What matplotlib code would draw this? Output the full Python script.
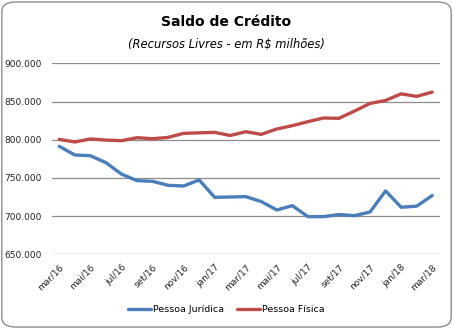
import matplotlib
matplotlib.use("Agg")
import matplotlib.pyplot as plt
from matplotlib.patches import FancyBboxPatch
from matplotlib.ticker import FuncFormatter

months = ["mar/16", "abr/16", "mai/16", "jun/16", "jul/16", "ago/16", "set/16", "out/16",
          "nov/16", "dez/16", "jan/17", "fev/17", "mar/17", "abr/17", "mai/17", "jun/17",
          "jul/17", "ago/17", "set/17", "out/17", "nov/17", "dez/17", "jan/18", "fev/18", "mar/18"]
pessoa_juridica = [791.3, 780.0, 779.0, 770.0, 755.0, 746.4, 745.5, 740.3, 739.4, 747.3,
                   724.6, 725.0, 725.5, 719.0, 708.0, 713.7, 699.3, 699.3, 702.0, 700.6,
                   705.4, 733.0, 711.6, 713.0, 727.0]
pessoa_fisica = [800.4, 797.0, 801.0, 799.5, 798.7, 802.6, 801.3, 803.0, 808.3, 809.0,
                 809.6, 805.5, 810.4, 807.0, 814.0, 818.4, 823.6, 828.4, 828.0, 837.5,
                 847.5, 851.4, 860.0, 856.7, 862.3]
yticks = [650, 700, 750, 800, 850, 900]

fig = plt.figure(figsize=(4.53, 3.29), dpi=100)
fig.patch.set_facecolor("white")
border = FancyBboxPatch((0.004, 0.006), 0.992, 0.988, boxstyle="round,pad=0,rounding_size=0.03",
                        transform=fig.transFigure, facecolor="none", edgecolor="#8c8c8c",
                        linewidth=1.0, zorder=5)
fig.patches.append(border)

ax = fig.add_axes([51.5 / 453, 1 - 254.3 / 329, (440 - 51.5) / 453, (254.3 - 63.3) / 329])
ax.set_facecolor("none")
x = list(range(len(months)))
ax.plot(x, pessoa_juridica, color="#4a7ebb", lw=2.4, label="Pessoa Jurídica", solid_capstyle="round")
ax.plot(x, pessoa_fisica, color="#be4b48", lw=2.4, label="Pessoa Física", solid_capstyle="round")

ax.set_xlim(-0.5, 24.5)
ax.set_ylim(650, 900)
ax.set_yticks(yticks)
ax.yaxis.set_major_formatter(FuncFormatter(lambda v, p: f"{int(v)}.000"))
ax.grid(axis="y", color="#8c8c8c", lw=0.9)
ax.set_axisbelow(True)
for s in ax.spines.values():
    s.set_visible(False)
ax.tick_params(axis="y", length=0, pad=7, labelsize=6.5, colors="#222222")
ax.set_xticks(x[::2])
ax.set_xticklabels(months[::2], rotation=45, ha="right", rotation_mode="anchor", fontsize=6.5, color="#222222")
ax.tick_params(axis="x", length=0, pad=6)

fig.text(0.5, 1 - 22 / 329, "Saldo de Crédito", ha="center", va="center", fontsize=10, fontweight="bold")
fig.text(0.5, 1 - 45 / 329, "(Recursos Livres - em R$ milhões)", ha="center", va="center", fontsize=8.3, style="italic")

fig.legend(loc="center", bbox_to_anchor=(0.5, 1 - 310 / 329), ncol=2, frameon=False, fontsize=6.8,
           handlelength=2.4, handletextpad=0.25, columnspacing=1.4)

fig.savefig("out.png", dpi=100)
